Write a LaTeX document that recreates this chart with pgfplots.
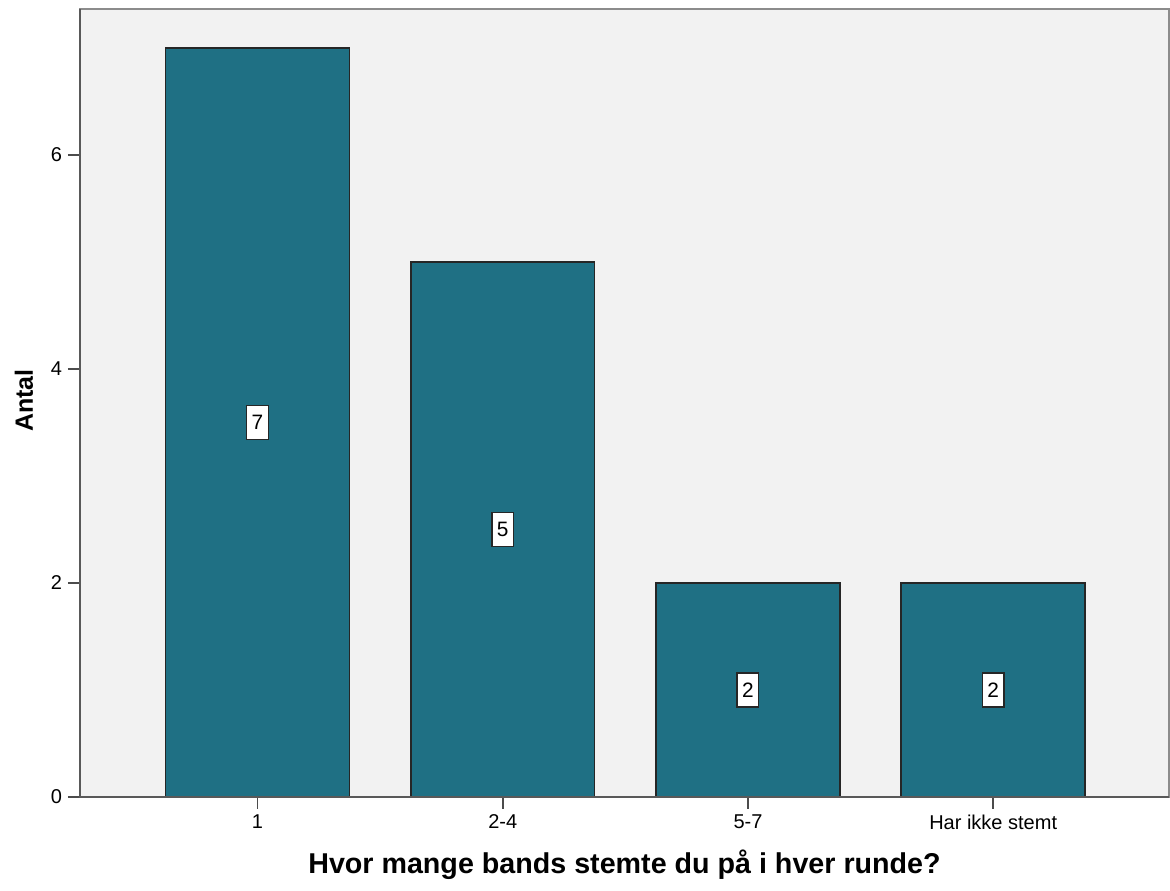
\documentclass[border=0pt]{standalone}
\usepackage{pgfplots}
\pgfplotsset{compat=1.18}
\usepackage{fontspec}
\setmainfont{Liberation Sans}
\definecolor{barfill}{RGB}{31,112,132}
\definecolor{bgc}{RGB}{242,242,242}
\begin{document}
\begin{tikzpicture}
\begin{axis}[
  name=ax,
  at={(0,0)}, anchor=south west,
  scale only axis,
  width=653.4pt, height=472.8pt,
  xmin=-0.724, xmax=3.717,
  ymin=0, ymax=7.364,
  axis background/.style={fill=bgc},
  axis line style={draw=black!45, line width=1.4pt},
  xtick={0,1,2,3},
  xticklabels={1,2-4,5-7,Har ikke stemt},
  ytick={0,2,4,6},
  xtick pos=bottom, ytick pos=left,
  tick align=outside,
  major tick length=7.2pt,
  tick style={draw=black!70, line width=1pt},
  ticklabel style={font=\fontsize{12}{14}\selectfont},
  /pgf/number format/assume math mode=true,
  xlabel={Hvor mange bands stemte du på i hver runde?},
  ylabel={Antal},
  xlabel style={font=\bfseries\fontsize{17.2}{20}\selectfont, at={(axis description cs:0.5,0)}, anchor=center, yshift=-40.8pt},
  ylabel style={font=\bfseries\fontsize{15}{18}\selectfont, at={(axis description cs:-0.0514,0.503)}, anchor=center},
  clip=false,
]
\addplot[ybar, bar width=0.75, fill=barfill, draw=black!85, line width=0.9pt]
  coordinates {(0,7) (1,5) (2,2) (3,2)};
\addplot[draw=none, mark=none, nodes near coords, point meta=explicit symbolic,
  every node near coord/.append style={anchor=center, fill=white, draw=black!85,
    line width=0.8pt, inner sep=1.5pt, minimum width=13pt, minimum height=20.5pt,
    font=\fontsize{12.5}{14}\selectfont}]
  coordinates {(0,3.5) [7] (1,2.5) [5] (2,1) [2] (3,1) [2]};
\draw[black!65, line width=1.4pt] (rel axis cs:0,1) -- (rel axis cs:0,0) -- (rel axis cs:1,0);
\end{axis}
\pgfresetboundingbox
\path (-48pt,-56.4pt) rectangle (654pt,478.2pt);
\end{tikzpicture}
\end{document}
